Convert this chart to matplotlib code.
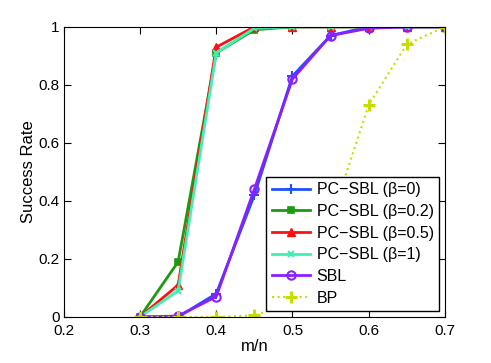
import numpy as np
import matplotlib
matplotlib.use("Agg")
import matplotlib.pyplot as plt

plt.rcParams['font.family'] = ['Liberation Sans', 'DejaVu Sans']

mn = [0.3, 0.35, 0.4, 0.45, 0.5, 0.55, 0.6, 0.65, 0.7]
pc0 = [0, 0.0, 0.08, 0.42, 0.83, 0.97, 1.0, 1.0, 1.0]
pc02 = [0, 0.19, 0.91, 0.99, 1.0, 1.0, 1.0, 1.0, 1.0]
pc05 = [0, 0.11, 0.93, 1.0, 1.0, 1.0, 1.0, 1.0, 1.0]
pc1 = [0, 0.09, 0.91, 0.995, 1.0, 1.0, 1.0, 1.0, 1.0]
sbl = [0, 0.003, 0.07, 0.44, 0.82, 0.97, 0.995, 1.0, 1.0]
bp = [0, 0, 0, 0.005, 0.05, 0.33, 0.73, 0.94, 1.0]

fig = plt.figure(figsize=(4.91, 3.63), dpi=100)
ax = fig.add_axes([0.130, 0.127, 0.776, 0.799])

ax.plot(mn, pc0, color='#2050ff', lw=2, marker='+', ms=7, mew=1.5, label='PC−SBL (β=0)')
ax.plot(mn, pc02, color='#1c9a10', lw=2, marker='s', ms=5, mew=1.2, label='PC−SBL (β=0.2)')
ax.plot(mn, pc05, color='#ff1010', lw=2, marker='^', ms=6, label='PC−SBL (β=0.5)')
ax.plot(mn, pc1, color='#40f0b0', lw=2, marker='x', ms=5, mew=1.5, label='PC−SBL (β=1)')
ax.plot(mn, sbl, color='#8a20ff', lw=2, marker='o', ms=6, mfc='none', mew=1.5, label='SBL')
ax.plot(mn, bp, color='#c8dc00', lw=1.5, ls=':', marker='+', ms=8, mew=2.2, label='BP')

ax.set_xlim(0.2, 0.7)
ax.set_ylim(0, 1)
ax.set_xticks([0.2, 0.3, 0.4, 0.5, 0.6, 0.7])
ax.set_xticklabels(['0.2', '0.3', '0.4', '0.5', '0.6', '0.7'])
ax.set_yticks([0, 0.2, 0.4, 0.6, 0.8, 1])
ax.set_yticklabels(['0', '0.2', '0.4', '0.6', '0.8', '1'])
ax.tick_params(direction='in', top=True, right=True, labelsize=11, length=5)
ax.tick_params(axis='y', pad=3)
ax.tick_params(axis='x', pad=5)
ax.set_xlabel('m/n', fontsize=12, labelpad=1)
ax.set_ylabel('Success Rate', fontsize=12, labelpad=2)

leg = ax.legend(loc='lower right', fontsize=11.5, fancybox=False, framealpha=1,
                edgecolor='black', borderpad=0.35, labelspacing=0.42, handlelength=2.4,
                handletextpad=0.4, borderaxespad=0.35)
leg.get_frame().set_linewidth(1)

fig.savefig('out.png', dpi=100)
